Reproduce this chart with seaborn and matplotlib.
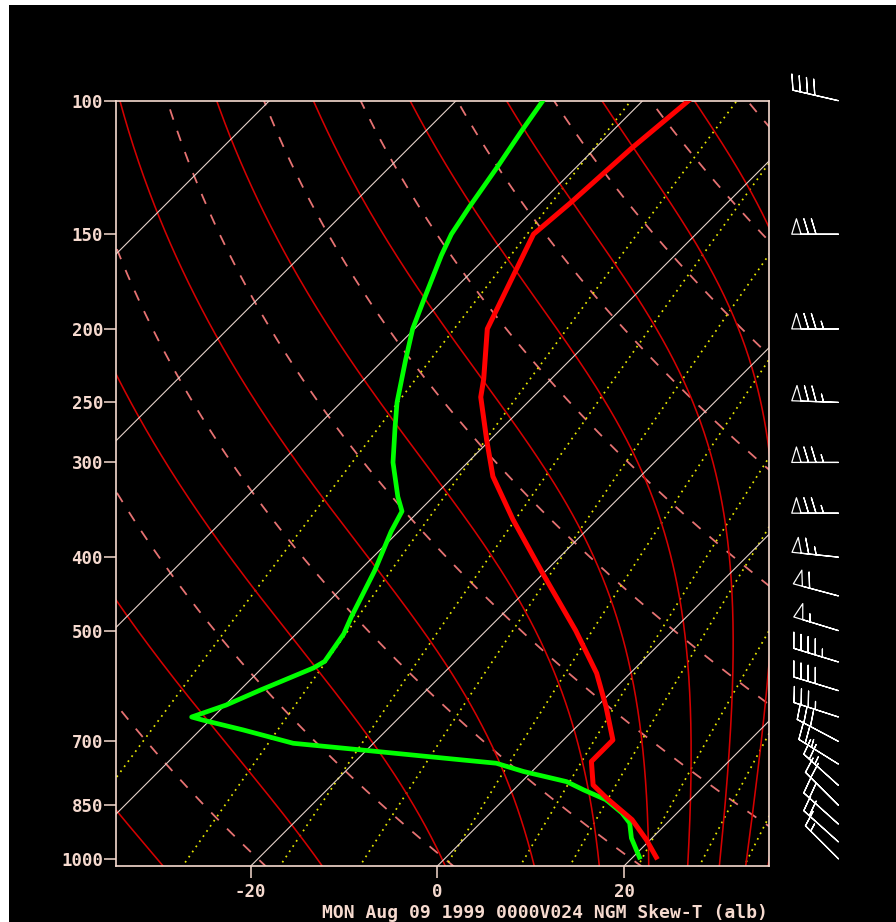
import numpy as np
import matplotlib
matplotlib.use("Agg")
import matplotlib.pyplot as plt
import matplotlib.transforms as mtransforms
from matplotlib.patches import Rectangle
from matplotlib.ticker import NullLocator
import seaborn as sns

# ---------------- data ----------------
temp_p = [100, 115.5, 136.5, 150, 200, 233, 246, 280, 313, 357, 420, 500,
          569, 630, 697, 744, 799, 832, 888, 944, 995]
temp_c = [-55.1, -56.1, -56.8, -57.4, -52.2, -47.2, -45.6, -40.4, -35.8, -29.0,
          -20.1, -10.4, -3.6, 1.0, 5.3, 5.3, 8.0, 10.9, 15.9, 19.6, 22.5]

dewp_p = [100, 110, 122, 138, 150, 160, 185, 200, 220, 250, 270, 300, 333, 348,
          370, 416, 480, 505, 549, 560, 600, 627, 650, 656, 676, 704, 718, 740,
          748, 767, 791, 811, 836, 870, 897, 939, 995]
dewp_c = [-70.7, -69.7, -68.5, -67.2, -66.2, -65.0, -61.9, -60.2, -57.6, -54.0,
          -51.5, -48.0, -43.8, -41.8, -40.8, -38.4, -35.9, -34.9, -34.0, -34.5,
          -37.9, -39.9, -42.3, -40.8, -35.4, -28.6, -20.8, -9.0, -4.7, -0.9,
          4.8, 7.5, 11.0, 14.1, 16.0, 17.8, 20.7]

wind_p = [100, 150, 200, 250, 300, 350, 400, 450, 500, 550, 600, 650, 700,
          750, 800, 850, 900, 950, 1000]
wind_dir = [283, 270, 270, 272, 270, 270, 276, 285, 287, 287, 287, 288, 298,
            302, 312, 315, 312, 312, 315]
wind_kt = [40, 70, 75, 75, 75, 75, 65, 60, 55, 45, 40, 35, 30, 25, 25, 20,
           20, 20, 15]

p_ticks = [100, 150, 200, 250, 300, 400, 500, 700, 850, 1000]
t_ticks = [-20, 0, 20]

isotherm_c = list(range(-120, 41, 20))
dry_theta_c = list(range(-20, 161, 20))
moist_thetae_c = [-30, -10, 10, 30, 50, 70, 90, 110, 130, 150]
mix_ratio_gkg = [0.1, 0.4, 1, 2, 4, 7, 10, 16, 24, 32]

title = "MON Aug 09 1999 0000V024 NGM Skew-T (alb)"

# ---------------- styling / layout ----------------
W, H = 896, 922
P_BOT, P_TOP = 1022.0, 100.0
AX_L, AX_R, AX_T, AX_B = 115.7, 769.0, 100.7, 866.0
TXT = "#f6dacf"
FONT = "DejaVu Sans Mono"

def es_hpa(tc):
    return 6.112 * np.exp(17.67 * tc / (tc + 243.5))

def t_from_e(e):
    a = np.log(e / 6.112)
    return 243.5 * a / (17.67 - a)

def theta_e(tk, p):
    e = es_hpa(tk - 273.15)
    r = 622.0 * e / (p - e)
    return tk * (1000.0 / p) ** (0.2854 * (1 - 0.28e-3 * r)) * \
        np.exp((3.376 / tk - 0.00254) * r * (1 + 0.81e-3 * r))

fig = plt.figure(figsize=(W / 100, H / 100), dpi=100)
fig.patch.set_facecolor("white")
fig.patches.append(Rectangle((9 / W, 0), 1, (H - 5) / H, transform=fig.transFigure,
                             facecolor="black", edgecolor="none", zorder=-10))

ax = fig.add_axes([AX_L / W, (H - AX_B) / H, (AX_R - AX_L) / W, (AX_B - AX_T) / H])
ax.set_facecolor("black")
ax.set_yscale("log")
ax.set_ylim(P_BOT, P_TOP)
ax.set_xlim(-34.47, 35.53)

y0 = ax.get_position().y0 * H
skew = mtransforms.Affine2D().translate(0, -y0).skew_deg(45, 0).translate(0, y0)
tr = ax.transData + skew

pg = np.geomspace(P_BOT + 5, P_TOP - 1, 300)

# isotherms
for t in isotherm_c:
    ax.plot([t, t], [P_BOT + 5, P_TOP - 1], color="#e6d2ca", lw=0.8, transform=tr, zorder=2)

# dry adiabats
for th in dry_theta_c:
    tt = (th + 273.15) * (pg / 1000.0) ** 0.2857 - 273.15
    ax.plot(tt, pg, color="#e67272", lw=1.3, ls=(0, (6, 6.5)), transform=tr, zorder=1)

# mixing ratio lines
for w in mix_ratio_gkg:
    e = w * pg / (622.0 + w)
    ax.plot(t_from_e(e), pg, color="#e8e800", lw=1.25, ls=(0, (1.0, 2.6)), transform=tr, zorder=1)

# moist adiabats (constant theta-e)
with np.errstate(all="ignore"):
    for the in moist_thetae_c:
        target = the + 273.15
        lo = np.full_like(pg, 140.0)
        hi = t_from_e(0.3 * pg) + 273.15
        for _ in range(60):
            mid = 0.5 * (lo + hi)
            f = theta_e(mid, pg)
            up = f > target
            hi = np.where(up, mid, hi)
            lo = np.where(up, lo, mid)
        ax.plot(0.5 * (lo + hi) - 273.15, pg, color="#d40000", lw=1.15, transform=tr, zorder=1)

# sounding
sns.lineplot(x=dewp_c, y=dewp_p, sort=False, estimator=None, ax=ax, color="#00ff00",
             lw=3.4, transform=tr, zorder=5, solid_joinstyle="round")
sns.lineplot(x=temp_c, y=temp_p, sort=False, estimator=None, ax=ax, color="#ff0000",
             lw=3.6, transform=tr, zorder=6, solid_joinstyle="round")

ax.set_xlim(-34.47, 35.53)
ax.set_ylim(P_BOT, P_TOP)
ax.set_xlabel("")
ax.set_ylabel("")

for s in ax.spines.values():
    s.set_color(TXT)
    s.set_linewidth(1.2)
ax.yaxis.set_minor_locator(NullLocator())
ax.set_yticks(p_ticks)
ax.set_yticklabels([str(p) for p in p_ticks])
ax.set_xticks(t_ticks)
ax.set_xticklabels([str(t) for t in t_ticks])
ax.tick_params(axis="both", which="major", color=TXT, labelcolor=TXT, length=8.6,
               width=1.1, direction="out")
ax.tick_params(axis="y", pad=0.5)
ax.tick_params(axis="x", pad=3.5)
for lab in ax.get_xticklabels() + ax.get_yticklabels():
    lab.set_fontfamily(FONT)
    lab.set_fontweight("bold")
    lab.set_fontsize(12.5)
ax.grid(False)

# wind barbs
axb = fig.add_axes([AX_R / W + 1 / W, (H - AX_B) / H, (W - AX_R - 1) / W, (AX_B - AX_T) / H])
axb.set_yscale("log")
axb.set_ylim(P_BOT, P_TOP)
axb.set_xlim(0, 1)
axb.axis("off")
d = np.deg2rad(np.array(wind_dir, float))
spd = np.array(wind_kt, float)
u = -spd * np.sin(d)
v = -spd * np.cos(d)
xb = np.full(len(wind_p), (838 - AX_R) / (W - AX_R))
axb.barbs(xb, wind_p, u, v, length=8.2, pivot="tip", barbcolor="white",
          flagcolor="black", linewidth=0.9, clip_on=False,
          sizes=dict(spacing=0.16, height=0.33, width=0.2))

fig.text(768 / W, (H - 918) / H, title, ha="right", va="baseline", family=FONT,
         weight="bold", size=13, color=TXT)

fig.savefig("out.png", dpi=100, facecolor="white")
